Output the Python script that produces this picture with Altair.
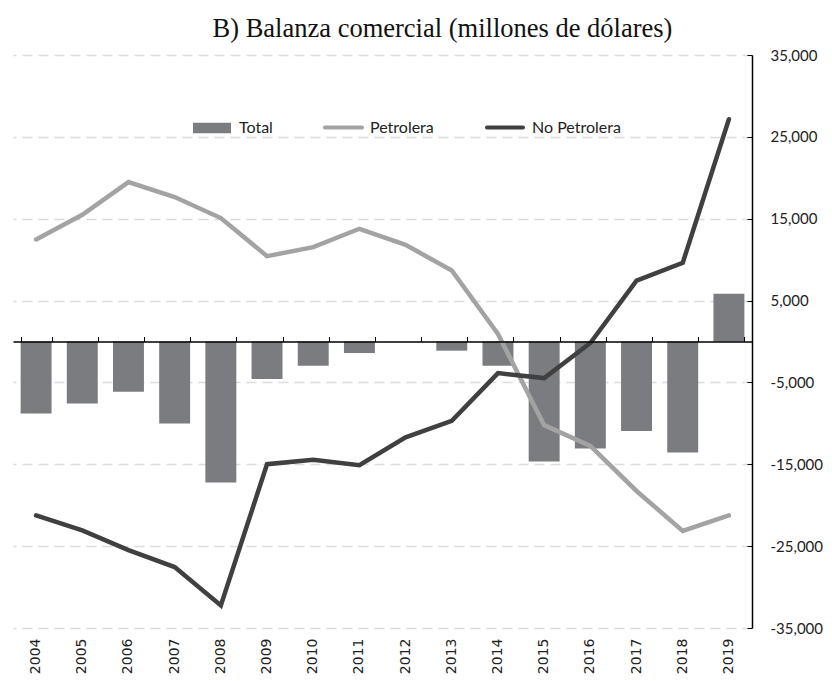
import altair as alt
import pandas as pd

years = [str(y) for y in range(2004, 2020)]
total = [-8800, -7560, -6130, -10010, -17240, -4590, -2960, -1410, 20, -1120,
         -2960, -14660, -13070, -10920, -13560, 5820]
petrolera = [12460, 15480, 19480, 17650, 15080, 10430, 11530, 13770, 11810, 8670,
             920, -10220, -12750, -18260, -23150, -21240]
no_petrolera = [-21240, -23070, -25480, -27560, -32250, -14990, -14460, -15120, -11700,
                -9690, -3860, -4470, -180, 7440, 9610, 27150]
y_ticks = [-35000, -25000, -15000, -5000, 5000, 15000, 25000, 35000]
series_names = ["Total", "Petrolera", "No Petrolera"]

W, H = 739, 573
C_BAR, C_PET, C_NOPET = "#7b7c80", "#a3a3a3", "#404040"

bars_df = pd.DataFrame({"Año": years, "valor": total})
lines_df = pd.DataFrame({
    "Año": years * 2,
    "serie": [series_names[1]] * len(years) + [series_names[2]] * len(years),
    "valor": petrolera + no_petrolera,
})

xscale = alt.Scale(domain=years, paddingInner=0.33, paddingOuter=0.165)
yscale = alt.Scale(domain=[-35000, 35000], nice=False, zero=False)

bars = alt.Chart(bars_df).mark_bar(color=C_BAR).encode(
    x=alt.X("Año:O", scale=xscale, axis=alt.Axis(
        orient="top", offset=-H / 2, labels=False, title=None, domain=True,
        domainColor="#000", domainWidth=1.5, ticks=True, tickSize=5,
        tickColor="#000", tickWidth=1, tickBand="extent", zindex=1, grid=False)),
    y=alt.Y("valor:Q", scale=yscale, axis=alt.Axis(
        orient="left", offset=-W, values=y_ticks, labels=False, title=None,
        domain=False, ticks=True, tickSize=5, tickColor="#000", tickWidth=1,
        grid=False, zindex=1)),
)

lines = alt.Chart(lines_df).mark_line(strokeWidth=4.5, strokeCap="round").encode(
    x=alt.X("Año:O", scale=xscale, axis=alt.Axis(
        orient="bottom", labelAngle=-90, labelFont="DejaVu Sans", labelFontSize=14,
        labelColor="#222", labelPadding=10, ticks=False, domain=False, title=None,
        grid=False)),
    y=alt.Y("valor:Q", scale=yscale, axis=alt.Axis(
        orient="right", values=y_ticks, title=None, domain=True, domainColor="#000",
        domainWidth=1.5, ticks=False, labelPadding=18, labelFont="Lato",
        labelFontSize=15, labelColor="#222",
        labelExpr="replace(format(datum.value, ','), '\u2212', '-')",
        grid=True, gridColor="#dcdcdc", gridDash=[10, 6], gridWidth=1.5)),
    color=alt.Color("serie:N", scale=alt.Scale(domain=series_names[1:],
                                               range=[C_PET, C_NOPET]), legend=None),
    detail="serie:N",
)

def legend_text(name, x):
    return alt.Chart(pd.DataFrame({"label": [name]})).mark_text(
        align="left", baseline="middle", font="Lato", fontSize=16, color="#222"
    ).encode(x=alt.value(x), y=alt.value(72.5), text="label:N")

leg_total_sw = alt.Chart(pd.DataFrame({"label": [series_names[0]]})).mark_rect(
    color=C_BAR).encode(x=alt.value(180), x2=alt.value(218),
                        y=alt.value(67.7), y2=alt.value(78.3))
leg_pet_sw = alt.Chart(pd.DataFrame({"label": [series_names[1]]})).mark_rule(
    color=C_PET, strokeWidth=4, strokeCap="round").encode(
    x=alt.value(312), x2=alt.value(349), y=alt.value(72.5))
leg_nopet_sw = alt.Chart(pd.DataFrame({"label": [series_names[2]]})).mark_rule(
    color=C_NOPET, strokeWidth=4, strokeCap="round").encode(
    x=alt.value(474), x2=alt.value(510), y=alt.value(72.5))

chart = alt.layer(
    bars, lines, leg_total_sw, legend_text(series_names[0], 226),
    leg_pet_sw, legend_text(series_names[1], 357),
    leg_nopet_sw, legend_text(series_names[2], 519),
).resolve_axis(x="independent", y="independent").properties(
    width=W, height=H,
    title=alt.Title("B) Balanza comercial (millones de dólares)",
                    font="Liberation Serif", fontSize=26.5, fontWeight="normal",
                    color="#111", anchor="middle", dx=60, offset=6),
    autosize=alt.AutoSizeParams(type="none"),
    padding={"left": 5, "top": 47, "right": 72, "bottom": 50},
).configure_view(stroke=None)

chart.save("out.html", embed_options={"renderer": "svg", "actions": False})
